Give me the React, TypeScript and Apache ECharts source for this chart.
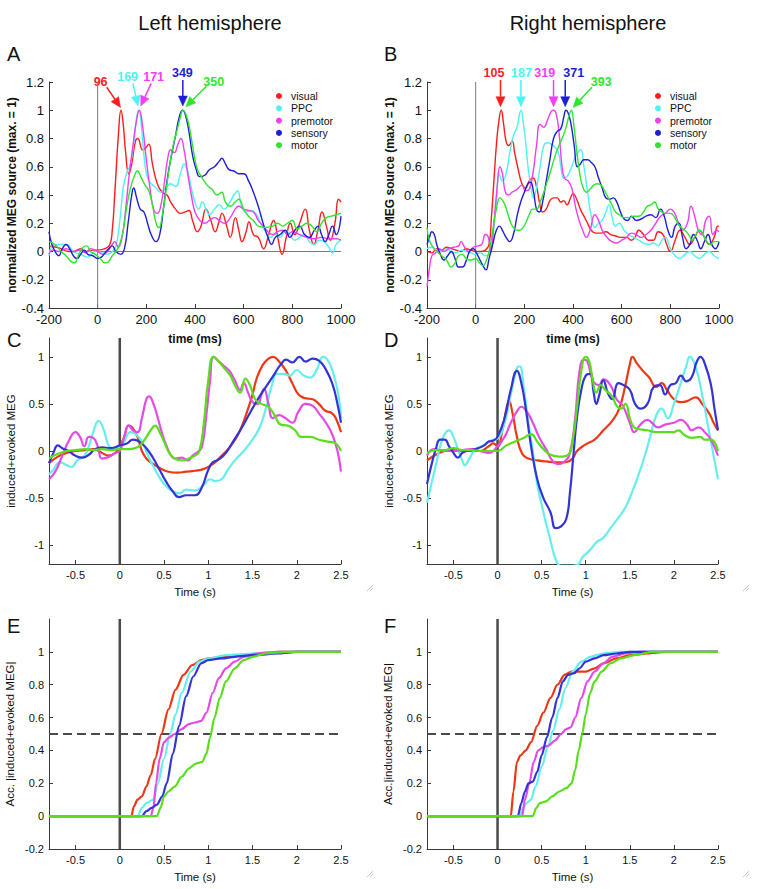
import React, { useEffect, useRef } from "react";
import * as echarts from "echarts";

const FONT = "'Liberation Sans', Arial, sans-serif";
const NAMES = ["visual", "PPC", "premotor", "sensory", "motor"];
const COL_AB = ["#ff1c1c", "#4ff2f2", "#f23df2", "#1e1ed6", "#2ee62e"];
const COL_CF = ["#ee3814", "#66eeee", "#e64ae6", "#3434d6", "#5ade1c"];

// ---------- Panel A (left hemisphere, evoked) ----------
const A_visual = [[-200,0.04],[-170,0.03],[-150,0.02],[-120,0.0],[-100,0.0],[-70,0.02],[-50,0.0],[-20,0.01],[0,0.01],[30,0.02],[50,0.05],[60,0.15],[70,0.4],[85,0.82],[96,1.0],[105,0.9],[115,0.7],[128,0.55],[140,0.62],[155,0.78],[165,0.8],[185,0.72],[195,0.73],[210,0.76],[225,0.62],[245,0.48],[265,0.42],[285,0.4],[300,0.35],[320,0.3],[340,0.27],[360,0.28],[375,0.29],[390,0.22],[410,0.14],[425,0.18],[445,0.3],[465,0.22],[483,0.14],[500,0.22],[511,0.27],[530,0.18],[545,0.1],[566,0.24],[580,0.15],[593,0.07],[610,0.14],[622,0.21],[640,0.12],[660,0.1],[682,0.02],[700,0.1],[723,0.22],[740,0.1],[758,-0.02],[775,0.1],[792,0.2],[810,0.12],[830,0.2],[853,0.3],[870,0.15],[888,0.05],[905,0.15],[922,0.28],[940,0.18],[956,0.08],[975,0.2],[990,0.37],[1000,0.35]];
const A_ppc = [[-200,-0.03],[-185,0.04],[-160,0.05],[-130,0.05],[-100,0.0],[-70,-0.02],[-40,-0.04],[-10,0.0],[0,0.0],[20,-0.01],[40,-0.02],[60,0.0],[75,0.04],[90,0.2],[105,0.45],[120,0.56],[135,0.62],[150,0.8],[160,0.95],[169,1.0],[180,0.88],[192,0.65],[205,0.52],[220,0.48],[240,0.45],[260,0.42],[280,0.45],[300,0.48],[320,0.46],[340,0.55],[355,0.62],[370,0.57],[385,0.45],[400,0.35],[415,0.3],[430,0.35],[445,0.3],[460,0.26],[480,0.3],[500,0.33],[520,0.3],[540,0.34],[560,0.4],[575,0.43],[590,0.33],[610,0.28],[630,0.29],[650,0.27],[670,0.2],[690,0.14],[710,0.1],[730,0.12],[750,0.1],[770,0.15],[790,0.12],[810,0.08],[830,0.1],[850,0.12],[870,0.07],[890,0.05],[910,0.08],[930,0.07],[950,0.03],[965,-0.01],[980,0.05],[1000,0.08]];
const A_premotor = [[-200,-0.02],[-185,0.01],[-160,0.0],[-130,0.02],[-100,0.0],[-70,0.01],[-50,-0.01],[-30,0.02],[0,0.0],[20,-0.02],[40,0.0],[60,0.05],[70,0.07],[85,0.03],[100,0.1],[115,0.3],[130,0.55],[145,0.75],[160,0.93],[171,1.0],[185,0.88],[200,0.65],[215,0.45],[230,0.3],[245,0.27],[260,0.33],[275,0.5],[290,0.68],[300,0.72],[315,0.7],[330,0.76],[342,0.8],[355,0.72],[370,0.55],[385,0.4],[400,0.28],[420,0.22],[440,0.2],[460,0.22],[480,0.24],[500,0.22],[520,0.2],[545,0.24],[565,0.3],[580,0.32],[600,0.3],[620,0.29],[640,0.28],[660,0.22],[680,0.18],[700,0.14],[720,0.12],[740,0.14],[760,0.15],[780,0.12],[800,0.14],[830,0.12],[860,0.1],[890,0.09],[920,0.1],[950,0.09],[980,0.09],[1000,0.08]];
const A_sensory = [[-200,0.14],[-190,0.06],[-175,0.0],[-160,-0.03],[-145,0.02],[-130,0.05],[-115,0.02],[-100,-0.03],[-85,-0.05],[-70,-0.02],[-55,0.01],[-40,-0.02],[-20,-0.03],[0,-0.05],[15,-0.04],[30,-0.01],[45,0.02],[60,0.04],[75,0.0],[95,-0.02],[110,0.02],[125,0.2],[140,0.4],[148,0.45],[160,0.38],[175,0.3],[190,0.28],[205,0.2],[220,0.12],[240,0.07],[255,0.12],[270,0.3],[285,0.5],[300,0.65],[320,0.82],[335,0.95],[349,1.0],[360,0.97],[375,0.85],[390,0.68],[405,0.58],[420,0.53],[440,0.54],[460,0.58],[480,0.6],[500,0.64],[510,0.66],[525,0.62],[540,0.58],[560,0.57],[580,0.55],[600,0.55],[620,0.5],[640,0.42],[660,0.32],[680,0.2],[700,0.1],[715,0.05],[730,0.1],[750,0.12],[770,0.15],[790,0.1],[810,0.15],[830,0.18],[850,0.12],[870,0.1],[890,0.15],[905,0.18],[920,0.12],[935,0.07],[950,0.12],[965,0.18],[980,0.12],[1000,0.25]];
const A_motor = [[-200,0.07],[-185,0.06],[-170,0.04],[-150,0.0],[-130,-0.03],[-110,-0.07],[-95,-0.08],[-80,-0.03],[-60,0.03],[-45,0.04],[-30,0.0],[-10,-0.02],[10,-0.05],[30,-0.08],[45,-0.07],[60,-0.03],[75,0.0],[90,0.05],[105,0.15],[120,0.32],[135,0.45],[150,0.53],[163,0.57],[180,0.52],[195,0.47],[210,0.43],[225,0.33],[240,0.2],[252,0.17],[265,0.25],[280,0.42],[295,0.6],[310,0.75],[325,0.85],[340,0.95],[350,1.0],[365,0.96],[380,0.85],[395,0.7],[410,0.58],[430,0.52],[450,0.47],[470,0.44],[490,0.4],[510,0.42],[525,0.35],[545,0.32],[565,0.35],[580,0.37],[600,0.3],[620,0.25],[640,0.22],[660,0.18],[690,0.17],[720,0.18],[740,0.2],[760,0.18],[780,0.2],[800,0.22],[820,0.16],[840,0.18],[860,0.2],[880,0.18],[900,0.14],[920,0.2],[940,0.24],[960,0.25],[980,0.26],[1000,0.27]];

// ---------- Panel B (right hemisphere, evoked) ----------
const B_visual = [[-200,0.0],[-180,-0.01],[-160,0.02],[-140,0.01],[-120,0.03],[-100,0.02],[-80,0.01],[-60,0.0],[-40,0.02],[-20,0.01],[0,0.0],[20,0.0],[40,0.01],[55,0.05],[65,0.25],[75,0.5],[85,0.75],[95,0.92],[105,1.0],[115,0.9],[125,0.78],[135,0.75],[150,0.78],[160,0.7],[175,0.58],[190,0.48],[205,0.45],[220,0.5],[235,0.52],[250,0.46],[262,0.35],[275,0.28],[290,0.3],[305,0.36],[320,0.38],[335,0.38],[350,0.35],[362,0.36],[375,0.33],[390,0.38],[400,0.41],[415,0.37],[430,0.3],[445,0.25],[460,0.2],[475,0.15],[495,0.13],[515,0.13],[535,0.14],[555,0.12],[575,0.11],[595,0.1],[620,0.1],[640,0.08],[655,0.1],[670,0.15],[690,0.12],[710,0.08],[730,0.08],[750,0.14],[770,0.12],[785,0.05],[800,0.0],[820,0.08],[840,0.15],[860,0.1],[880,0.05],[900,0.1],[920,0.15],[940,0.1],[960,0.05],[980,0.1],[995,0.18],[1000,0.18]];
const B_ppc = [[-200,0.02],[-180,0.03],[-160,0.01],[-140,0.0],[-120,0.02],[-100,0.0],[-80,-0.01],[-60,0.01],[-40,0.0],[-20,-0.01],[0,-0.02],[20,-0.01],[40,-0.03],[55,-0.02],[70,0.1],[85,0.35],[97,0.55],[110,0.5],[125,0.55],[140,0.7],[155,0.82],[170,0.88],[180,0.97],[187,1.0],[195,0.92],[205,0.78],[215,0.6],[225,0.48],[238,0.38],[250,0.45],[265,0.6],[280,0.75],[295,0.77],[310,0.76],[325,0.74],[340,0.7],[350,0.6],[362,0.52],[375,0.53],[390,0.58],[405,0.65],[420,0.7],[432,0.72],[445,0.6],[460,0.42],[475,0.25],[490,0.17],[505,0.2],[520,0.22],[535,0.28],[548,0.33],[560,0.25],[575,0.18],[590,0.2],[610,0.15],[630,0.12],[650,0.1],[670,0.08],[690,0.06],[710,0.05],[730,0.06],[750,0.04],[765,0.08],[780,0.1],[800,0.02],[820,-0.03],[840,-0.05],[860,-0.02],[880,0.0],[900,-0.03],[920,-0.05],[940,-0.02],[960,0.0],[980,-0.03],[1000,-0.05]];
const B_premotor = [[-200,-0.25],[-190,-0.12],[-180,-0.03],[-165,-0.01],[-150,0.02],[-130,0.0],[-110,0.02],[-90,0.03],[-70,0.04],[-60,0.07],[-45,0.03],[-30,0.0],[-10,0.03],[10,0.04],[25,0.05],[40,0.12],[52,0.1],[62,0.0],[75,0.2],[88,0.45],[100,0.6],[110,0.55],[122,0.42],[135,0.4],[150,0.42],[170,0.44],[190,0.47],[205,0.43],[220,0.44],[235,0.55],[250,0.75],[265,0.9],[280,0.88],[295,0.93],[310,0.99],[319,1.0],[330,0.98],[342,0.85],[355,0.6],[365,0.52],[380,0.5],[395,0.45],[410,0.32],[425,0.22],[440,0.15],[455,0.1],[470,0.15],[490,0.26],[505,0.22],[520,0.15],[540,0.1],[560,0.07],[580,0.06],[600,0.08],[620,0.1],[640,0.13],[660,0.12],[680,0.1],[700,0.12],[720,0.15],[740,0.2],[760,0.25],[780,0.27],[800,0.3],[815,0.28],[830,0.22],[850,0.15],[870,0.2],[885,0.32],[900,0.25],[915,0.15],[930,0.12],[945,0.22],[960,0.25],[975,0.12],[990,0.15],[1000,0.14]];
const B_sensory = [[-200,0.05],[-190,0.1],[-180,0.14],[-170,0.12],[-160,0.05],[-145,-0.02],[-130,-0.06],[-115,-0.03],[-100,0.0],[-85,-0.05],[-70,-0.11],[-55,-0.11],[-40,-0.07],[-25,0.0],[-10,0.02],[0,0.0],[15,-0.05],[30,-0.1],[42,-0.13],[55,-0.05],[70,0.05],[85,0.15],[98,0.18],[110,0.15],[125,0.1],[140,0.07],[155,0.12],[170,0.25],[185,0.35],[200,0.42],[215,0.48],[225,0.49],[238,0.42],[250,0.3],[262,0.28],[275,0.35],[290,0.5],[305,0.65],[320,0.8],[335,0.85],[350,0.87],[362,0.95],[371,1.0],[380,0.98],[392,0.9],[405,0.75],[418,0.6],[430,0.62],[445,0.65],[460,0.65],[475,0.63],[490,0.6],[505,0.52],[520,0.45],[535,0.38],[550,0.37],[565,0.38],[580,0.35],[595,0.28],[610,0.23],[625,0.22],[640,0.25],[660,0.22],[680,0.23],[700,0.25],[720,0.26],[740,0.24],[760,0.3],[775,0.25],[790,0.15],[805,0.1],[820,0.18],[835,0.2],[850,0.1],[865,0.02],[880,0.05],[895,0.12],[910,0.08],[925,0.02],[940,0.07],[955,0.12],[970,0.05],[985,0.02],[1000,0.07]];
const B_motor = [[-200,0.17],[-190,0.08],[-175,0.03],[-160,0.0],[-140,-0.03],[-120,-0.06],[-100,-0.11],[-85,-0.08],[-70,-0.03],[-55,-0.02],[-40,-0.05],[-20,-0.06],[0,-0.05],[15,-0.08],[30,-0.1],[40,-0.08],[55,0.0],[70,0.15],[85,0.3],[100,0.38],[115,0.35],[130,0.28],[145,0.2],[160,0.16],[175,0.15],[190,0.16],[205,0.2],[220,0.26],[235,0.3],[250,0.3],[265,0.35],[280,0.42],[295,0.5],[310,0.58],[325,0.67],[340,0.74],[355,0.8],[370,0.87],[382,0.95],[393,1.0],[403,0.9],[415,0.72],[428,0.55],[440,0.46],[455,0.42],[470,0.44],[485,0.47],[500,0.48],[515,0.47],[530,0.43],[545,0.38],[560,0.33],[575,0.28],[590,0.26],[610,0.24],[630,0.24],[650,0.25],[670,0.25],[690,0.28],[705,0.32],[720,0.33],[735,0.35],[750,0.3],[765,0.28],[780,0.27],[800,0.27],[815,0.25],[830,0.2],[845,0.17],[860,0.15],[875,0.12],[890,0.08],[905,0.12],[920,0.15],[935,0.12],[950,0.07],[965,0.05],[980,0.07],[1000,0.07]];

// ---------- Panel C (left, induced+evoked) ----------
const C_visual = [[-0.8,-0.13],[-0.7,-0.06],[-0.6,-0.02],[-0.5,0.0],[-0.4,0.01],[-0.3,0.02],[-0.2,-0.02],[-0.13,-0.05],[-0.05,-0.02],[0,0.05],[0.05,0.15],[0.1,0.27],[0.14,0.25],[0.2,0.15],[0.25,0.0],[0.3,-0.08],[0.35,-0.12],[0.45,-0.18],[0.55,-0.22],[0.65,-0.23],[0.75,-0.22],[0.85,-0.21],[0.95,-0.19],[1.05,-0.14],[1.15,-0.05],[1.25,0.05],[1.35,0.2],[1.45,0.45],[1.5,0.6],[1.55,0.78],[1.62,0.92],[1.68,0.98],[1.73,1.0],[1.8,0.95],[1.88,0.85],[1.95,0.72],[2.02,0.6],[2.1,0.56],[2.18,0.55],[2.25,0.5],[2.32,0.43],[2.4,0.4],[2.45,0.33],[2.5,0.2]];
const C_ppc = [[-0.8,-0.25],[-0.75,-0.2],[-0.68,-0.12],[-0.6,-0.15],[-0.55,-0.17],[-0.48,-0.1],[-0.4,-0.05],[-0.35,0.05],[-0.3,0.2],[-0.24,0.32],[-0.18,0.22],[-0.12,0.05],[-0.05,0.02],[0,0.05],[0.05,0.1],[0.12,0.2],[0.18,0.18],[0.25,0.1],[0.32,-0.05],[0.4,-0.2],[0.5,-0.35],[0.6,-0.43],[0.68,-0.45],[0.75,-0.41],[0.85,-0.42],[0.95,-0.36],[1.02,-0.3],[1.08,-0.32],[1.15,-0.3],[1.22,-0.2],[1.3,-0.1],[1.4,0.0],[1.5,0.12],[1.58,0.25],[1.65,0.45],[1.72,0.7],[1.78,0.82],[1.85,0.82],[1.92,0.8],[2.0,0.86],[2.08,0.8],[2.15,0.78],[2.22,0.85],[2.3,1.0],[2.36,0.95],[2.42,0.8],[2.47,0.6],[2.5,0.35]];
const C_premotor = [[-0.8,-0.3],[-0.73,-0.22],[-0.65,-0.05],[-0.58,0.1],[-0.5,0.2],[-0.45,0.15],[-0.4,0.05],[-0.35,0.15],[-0.3,0.14],[-0.25,0.05],[-0.2,-0.08],[-0.12,-0.06],[-0.05,-0.02],[0,0.0],[0.05,0.15],[0.1,0.27],[0.15,0.22],[0.2,0.2],[0.25,0.35],[0.3,0.55],[0.33,0.58],[0.38,0.5],[0.43,0.35],[0.48,0.18],[0.53,0.05],[0.58,-0.05],[0.63,-0.08],[0.7,-0.07],[0.77,-0.1],[0.82,-0.05],[0.88,-0.01],[0.93,0.05],[0.98,0.4],[1.02,0.75],[1.06,1.0],[1.12,0.95],[1.18,0.9],[1.24,0.85],[1.3,0.75],[1.36,0.65],[1.4,0.72],[1.45,0.62],[1.5,0.52],[1.56,0.5],[1.6,0.6],[1.63,0.66],[1.68,0.5],[1.73,0.35],[1.8,0.38],[1.87,0.35],[1.95,0.3],[2.02,0.42],[2.1,0.5],[2.18,0.48],[2.25,0.4],[2.33,0.3],[2.4,0.18],[2.46,0.0],[2.5,-0.22]];
const C_sensory = [[-0.8,-0.13],[-0.75,-0.02],[-0.7,0.06],[-0.65,0.03],[-0.58,0.0],[-0.5,-0.05],[-0.42,-0.07],[-0.35,-0.04],[-0.28,0.02],[-0.2,0.04],[-0.1,0.03],[0,0.06],[0.08,0.08],[0.15,0.12],[0.22,0.1],[0.3,0.03],[0.38,-0.08],[0.45,-0.2],[0.52,-0.32],[0.6,-0.43],[0.67,-0.49],[0.75,-0.47],[0.85,-0.47],[0.92,-0.4],[1.0,-0.2],[1.05,-0.12],[1.12,-0.09],[1.2,-0.02],[1.28,0.1],[1.38,0.25],[1.48,0.42],[1.58,0.58],[1.68,0.72],[1.75,0.82],[1.82,0.92],[1.88,0.97],[1.95,0.94],[2.03,1.0],[2.1,0.95],[2.18,0.98],[2.25,0.96],[2.32,0.88],[2.4,0.72],[2.46,0.5],[2.5,0.3]];
const C_motor = [[-0.8,-0.08],[-0.7,-0.03],[-0.6,0.0],[-0.5,0.01],[-0.4,0.02],[-0.3,0.01],[-0.2,0.02],[-0.1,0.01],[0,0.02],[0.1,0.02],[0.2,0.04],[0.28,0.12],[0.35,0.22],[0.4,0.27],[0.45,0.2],[0.5,0.1],[0.56,-0.02],[0.62,-0.08],[0.7,-0.1],[0.78,-0.08],[0.85,-0.05],[0.9,0.0],[0.95,0.3],[1.0,0.75],[1.06,1.0],[1.12,0.95],[1.18,0.88],[1.25,0.8],[1.3,0.7],[1.36,0.62],[1.42,0.77],[1.47,0.7],[1.53,0.55],[1.6,0.5],[1.68,0.47],[1.75,0.38],[1.82,0.28],[1.9,0.27],[1.98,0.22],[2.05,0.15],[2.15,0.15],[2.25,0.12],[2.35,0.1],[2.42,0.09],[2.5,0.0]];

// ---------- Panel D (right, induced+evoked) ----------
const D_visual = [[-0.8,-0.1],[-0.7,-0.04],[-0.6,0.0],[-0.5,0.01],[-0.4,0.0],[-0.3,0.0],[-0.2,0.0],[-0.1,0.05],[-0.05,0.08],[0,0.05],[0.05,0.2],[0.1,0.45],[0.13,0.53],[0.17,0.4],[0.22,0.15],[0.28,-0.03],[0.35,-0.08],[0.45,-0.1],[0.55,-0.11],[0.65,-0.12],[0.75,-0.12],[0.85,-0.08],[0.9,0.0],[1.0,0.07],[1.1,0.12],[1.2,0.22],[1.3,0.32],[1.38,0.45],[1.45,0.7],[1.5,0.92],[1.53,1.0],[1.58,0.93],[1.65,0.85],[1.72,0.78],[1.8,0.68],[1.86,0.72],[1.92,0.65],[2.0,0.55],[2.08,0.52],[2.15,0.53],[2.25,0.57],[2.32,0.5],[2.4,0.4],[2.45,0.3],[2.5,0.22]];
const D_ppc = [[-0.8,-0.55],[-0.75,-0.35],[-0.7,-0.15],[-0.65,0.05],[-0.6,0.18],[-0.55,0.22],[-0.5,0.15],[-0.45,0.02],[-0.4,-0.1],[-0.37,-0.15],[-0.32,-0.08],[-0.25,0.02],[-0.18,0.05],[-0.1,0.1],[-0.05,0.12],[0,0.13],[0.08,0.3],[0.15,0.6],[0.22,0.88],[0.25,0.9],[0.3,0.65],[0.35,0.3],[0.4,0.0],[0.45,-0.35],[0.52,-0.65],[0.6,-0.95],[0.66,-1.15],[0.72,-1.22],[0.8,-1.22],[0.9,-1.21],[0.97,-1.12],[1.05,-1.05],[1.12,-0.97],[1.2,-0.92],[1.28,-0.82],[1.36,-0.72],[1.45,-0.6],[1.52,-0.45],[1.6,-0.25],[1.67,-0.05],[1.73,0.15],[1.8,0.38],[1.86,0.45],[1.93,0.35],[2.0,0.5],[2.07,0.7],[2.14,0.9],[2.18,1.0],[2.25,0.88],[2.32,0.6],[2.38,0.3],[2.44,0.0],[2.5,-0.3]];
const D_premotor = [[-0.8,-0.05],[-0.72,0.02],[-0.6,0.0],[-0.5,0.0],[-0.4,0.01],[-0.3,0.02],[-0.2,0.0],[-0.1,-0.02],[0,0.05],[0.08,0.15],[0.15,0.3],[0.22,0.42],[0.27,0.47],[0.33,0.42],[0.4,0.3],[0.47,0.15],[0.55,0.02],[0.62,-0.1],[0.68,-0.14],[0.75,-0.12],[0.82,-0.02],[0.88,0.35],[0.93,0.85],[0.98,0.97],[1.02,0.95],[1.08,0.75],[1.15,0.7],[1.2,0.76],[1.28,0.7],[1.35,0.55],[1.42,0.48],[1.5,0.3],[1.55,0.2],[1.62,0.28],[1.7,0.33],[1.75,0.3],[1.82,0.25],[1.9,0.28],[2.0,0.3],[2.08,0.33],[2.15,0.28],[2.2,0.22],[2.28,0.25],[2.35,0.2],[2.42,0.12],[2.5,-0.05]];
const D_sensory = [[-0.8,-0.35],[-0.75,-0.15],[-0.7,0.02],[-0.65,0.12],[-0.6,0.12],[-0.55,0.05],[-0.5,-0.02],[-0.45,-0.07],[-0.4,-0.02],[-0.35,0.0],[-0.25,0.02],[-0.15,0.06],[-0.1,0.1],[-0.05,0.11],[0,0.15],[0.08,0.35],[0.15,0.65],[0.22,0.85],[0.27,0.72],[0.32,0.45],[0.38,0.05],[0.45,-0.3],[0.52,-0.5],[0.6,-0.65],[0.66,-0.82],[0.72,-0.8],[0.78,-0.72],[0.82,-0.45],[0.86,-0.05],[0.9,0.35],[0.95,0.65],[1.0,0.8],[1.05,0.82],[1.09,0.62],[1.12,0.5],[1.15,0.58],[1.2,0.75],[1.25,0.62],[1.3,0.55],[1.37,0.72],[1.43,0.7],[1.5,0.65],[1.56,0.5],[1.62,0.45],[1.7,0.5],[1.77,0.68],[1.84,0.7],[1.9,0.6],[1.96,0.7],[2.02,0.72],[2.08,0.8],[2.14,0.74],[2.2,0.78],[2.26,0.95],[2.3,1.0],[2.36,0.9],[2.42,0.7],[2.46,0.45],[2.5,0.22]];
const D_motor = [[-0.8,-0.02],[-0.7,0.01],[-0.6,0.01],[-0.5,0.03],[-0.4,0.01],[-0.3,0.01],[-0.2,0.0],[-0.1,0.0],[0,0.0],[0.1,0.06],[0.2,0.1],[0.3,0.14],[0.38,0.18],[0.45,0.1],[0.52,0.02],[0.6,-0.04],[0.7,-0.06],[0.8,-0.04],[0.85,0.1],[0.9,0.45],[0.95,0.85],[1.0,1.0],[1.04,0.95],[1.08,0.75],[1.12,0.62],[1.17,0.7],[1.22,0.65],[1.3,0.58],[1.35,0.48],[1.4,0.45],[1.45,0.5],[1.5,0.35],[1.55,0.25],[1.62,0.23],[1.7,0.22],[1.8,0.2],[1.9,0.2],[2.0,0.2],[2.05,0.22],[2.12,0.17],[2.2,0.14],[2.3,0.15],[2.35,0.12],[2.42,0.12],[2.5,0.0]];

// ---------- Panel E (left, accumulated) ----------
const E_visual = [[-0.8,0],[0.13,0],[0.16,0.06],[0.2,0.1],[0.25,0.12],[0.3,0.18],[0.35,0.25],[0.4,0.35],[0.47,0.5],[0.55,0.65],[0.63,0.77],[0.72,0.86],[0.82,0.92],[0.92,0.95],[1.0,0.96],[1.2,0.97],[1.4,0.98],[1.6,0.99],[1.8,1.0],[2.5,1.0]];
const E_ppc = [[-0.8,0],[0.2,0],[0.25,0.05],[0.3,0.08],[0.38,0.1],[0.43,0.2],[0.5,0.35],[0.57,0.5],[0.63,0.62],[0.7,0.75],[0.8,0.88],[0.9,0.94],[1.0,0.96],[1.2,0.98],[1.5,0.99],[1.8,1.0],[2.5,1.0]];
const E_premotor = [[-0.8,0],[0.35,0],[0.38,0.05],[0.41,0.2],[0.45,0.35],[0.5,0.45],[0.56,0.48],[0.62,0.5],[0.7,0.53],[0.78,0.56],[0.85,0.57],[0.92,0.58],[0.98,0.63],[1.05,0.75],[1.12,0.84],[1.2,0.9],[1.3,0.94],[1.4,0.97],[1.55,0.99],[1.8,1.0],[2.5,1.0]];
const E_sensory = [[-0.8,0],[0.25,0],[0.3,0.03],[0.36,0.05],[0.42,0.07],[0.48,0.12],[0.53,0.2],[0.6,0.38],[0.67,0.55],[0.75,0.73],[0.83,0.85],[0.92,0.93],[1.0,0.95],[1.15,0.96],[1.3,0.97],[1.5,0.98],[1.8,0.99],[2.0,1.0],[2.5,1.0]];
const E_motor = [[-0.8,0],[0.42,0],[0.46,0.05],[0.5,0.12],[0.55,0.15],[0.62,0.18],[0.7,0.24],[0.78,0.29],[0.86,0.32],[0.93,0.33],[0.98,0.38],[1.02,0.48],[1.07,0.6],[1.13,0.72],[1.2,0.82],[1.3,0.9],[1.4,0.95],[1.5,0.97],[1.65,0.99],[1.9,1.0],[2.5,1.0]];

// ---------- Panel F (right, accumulated) ----------
const F_visual = [[-0.8,0],[0.15,0],[0.18,0.15],[0.22,0.33],[0.26,0.37],[0.32,0.4],[0.38,0.45],[0.45,0.55],[0.52,0.63],[0.6,0.72],[0.68,0.8],[0.76,0.86],[0.84,0.88],[0.92,0.88],[1.0,0.88],[1.1,0.9],[1.2,0.93],[1.35,0.96],[1.5,0.98],[1.7,0.99],[1.9,1.0],[2.5,1.0]];
const F_ppc = [[-0.8,0],[0.25,0],[0.29,0.05],[0.33,0.08],[0.38,0.1],[0.43,0.18],[0.5,0.3],[0.57,0.42],[0.63,0.52],[0.7,0.65],[0.77,0.78],[0.85,0.88],[0.95,0.94],[1.05,0.97],[1.2,0.99],[1.4,1.0],[2.5,1.0]];
const F_premotor = [[-0.8,0],[0.28,0],[0.31,0.1],[0.36,0.2],[0.41,0.33],[0.46,0.4],[0.52,0.42],[0.58,0.43],[0.65,0.46],[0.72,0.5],[0.78,0.53],[0.83,0.54],[0.88,0.6],[0.95,0.72],[1.02,0.82],[1.1,0.88],[1.2,0.93],[1.3,0.97],[1.45,0.99],[1.6,1.0],[2.5,1.0]];
const F_sensory = [[-0.8,0],[0.23,0],[0.27,0.08],[0.31,0.15],[0.35,0.2],[0.4,0.21],[0.45,0.27],[0.5,0.37],[0.56,0.48],[0.62,0.6],[0.68,0.72],[0.74,0.82],[0.8,0.86],[0.87,0.87],[0.93,0.9],[1.0,0.94],[1.1,0.96],[1.2,0.98],[1.35,0.99],[1.5,1.0],[2.5,1.0]];
const F_motor = [[-0.8,0],[0.4,0],[0.44,0.05],[0.48,0.08],[0.55,0.09],[0.62,0.12],[0.7,0.15],[0.78,0.17],[0.84,0.2],[0.88,0.28],[0.92,0.4],[0.96,0.5],[1.0,0.62],[1.05,0.75],[1.1,0.82],[1.18,0.88],[1.28,0.93],[1.4,0.96],[1.55,0.98],[1.75,1.0],[2.5,1.0]];

// ---------- tick values ----------
const X_TICKS_S = [-0.5, 0, 0.5, 1, 1.5, 2, 2.5];
const Y_TICKS_CD = [-1, -0.5, 0, 0.5, 1];
const Y_TICKS_EF = [-0.2, 0, 0.2, 0.4, 0.6, 0.8, 1];

// ---------- peak annotations (data coordinates) ----------
const A_PEAKS = [
  { text: "96", c: 0, label: [12, 1.2], tail: [37, 1.163], tip: [94, 1.02] },
  { text: "169", c: 1, label: [123, 1.235], tail: [145, 1.19], tip: [166, 1.03] },
  { text: "171", c: 2, label: [230, 1.235], tail: [220, 1.19], tip: [177, 1.03] },
  { text: "349", c: 3, label: [348, 1.266], tail: [350, 1.214], tip: [350, 1.03] },
  { text: "350", c: 4, label: [477, 1.2], tail: [447, 1.17], tip: [362, 1.025] },
];
const B_PEAKS = [
  { text: "105", c: 0, label: [75, 1.266], tail: [102, 1.214], tip: [102, 1.025] },
  { text: "187", c: 1, label: [188, 1.266], tail: [186, 1.214], tip: [186, 1.025] },
  { text: "319", c: 2, label: [284, 1.266], tail: [320, 1.214], tip: [320, 1.025] },
  { text: "371", c: 3, label: [403, 1.266], tail: [368, 1.214], tip: [368, 1.025] },
  { text: "393", c: 4, label: [516, 1.2], tail: [478, 1.163], tip: [400, 1.02] },
];

const GRIDS = [
  { left: 49, top: 82, width: 292, height: 226 },
  { left: 427, top: 82, width: 292, height: 226 },
  { left: 49, top: 338, width: 292, height: 226 },
  { left: 427, top: 338, width: 291, height: 226 },
  { left: 49, top: 619, width: 292, height: 230 },
  { left: 427, top: 619, width: 291, height: 230 },
];

const PANELS = [
  { curves: [A_visual, A_ppc, A_premotor, A_sensory, A_motor], colors: COL_AB, width: 1.4 },
  { curves: [B_visual, B_ppc, B_premotor, B_sensory, B_motor], colors: COL_AB, width: 1.4 },
  { curves: [C_visual, C_ppc, C_premotor, C_sensory, C_motor], colors: COL_CF, width: 2.2 },
  { curves: [D_visual, D_ppc, D_premotor, D_sensory, D_motor], colors: COL_CF, width: 2.2 },
  { curves: [E_visual, E_ppc, E_premotor, E_sensory, E_motor], colors: COL_CF, width: 2.2 },
  { curves: [F_visual, F_ppc, F_premotor, F_sensory, F_motor], colors: COL_CF, width: 2.2 },
];

const AXIS_COLOR = "#3a3a3a";

function baseAxis(fontSize: number) {
  return {
    type: "value" as const,
    axisLine: { show: true, onZero: false, lineStyle: { color: AXIS_COLOR, width: 1 } },
    axisTick: { show: true, inside: true, length: 4, lineStyle: { color: AXIS_COLOR } },
    splitLine: { show: false },
    axisLabel: { color: "#111", fontSize, fontFamily: FONT, margin: 5, formatter: (v: number) => String(Math.round(v * 1000) / 1000) },
    nameLocation: "middle" as const,
  };
}

function buildOption() {
  const xAxis: any[] = [];
  const yAxis: any[] = [];
  for (let i = 0; i < 6; i++) {
    if (i < 2) {
      const bx = baseAxis(13);
      xAxis.push({
        ...bx, gridIndex: i, min: -200, max: 1000, interval: 200,
        name: "time (ms)", nameGap: 25,
        nameTextStyle: { fontFamily: FONT, fontSize: 12, fontWeight: "bold", color: "#111" },
      });
      const by = baseAxis(13);
      yAxis.push({
        ...by, gridIndex: i, min: -0.4, max: 1.2, interval: 0.2,
        name: "normalized MEG source (max. = 1)", nameGap: 30,
        nameTextStyle: { fontFamily: FONT, fontSize: 12, fontWeight: "bold", color: "#111" },
      });
    } else {
      const bx = baseAxis(11);
      xAxis.push({
        ...bx, gridIndex: i, min: -0.8, max: 2.5,
        axisLabel: { ...bx.axisLabel, customValues: X_TICKS_S },
        axisTick: { ...bx.axisTick, customValues: X_TICKS_S },
        name: "Time (s)", nameGap: 22,
        nameTextStyle: { fontFamily: FONT, fontSize: 11.5, color: "#111" },
      });
      const by = baseAxis(11);
      const ef = i >= 4;
      const ticks = ef ? Y_TICKS_EF : Y_TICKS_CD;
      yAxis.push({
        ...by, gridIndex: i, min: ef ? -0.2 : -1.2, max: 1.2,
        axisLabel: { ...by.axisLabel, customValues: ticks },
        axisTick: { ...by.axisTick, customValues: ticks },
        name: ef ? (i === 4 ? "Acc. |induced+evoked MEG|" : "Acc.|induced+evoked MEG|") : "induced+evoked MEG",
        nameGap: ef ? 33 : 32,
        nameTextStyle: { fontFamily: FONT, fontSize: 11.5, color: "#111" },
      });
    }
  }

  const series: any[] = [];
  const refLine = (i: number, data: number[][], color: string, width: number, type: any = "solid") => ({
    type: "line", xAxisIndex: i, yAxisIndex: i, data, symbol: "none", silent: true, z: 1,
    lineStyle: { color, width, type }, animation: false,
  });
  for (let i = 0; i < 6; i++) {
    if (i < 2) {
      series.push(refLine(i, [[0, -0.4], [0, 1.2]], "#7a7a7a", 1));
      series.push(refLine(i, [[0, 0], [1000, 0]], "#7a7a7a", 1));
    } else if (i < 4) {
      series.push(refLine(i, [[0, -1.2], [0, 1.2]], "#4a4a4a", 2.5));
    } else {
      series.push(refLine(i, [[0, -0.2], [0, 1.2]], "#4a4a4a", 2.5));
      series.push(refLine(i, [[-0.8, 0.5], [2.5, 0.5]], "#4a4a4a", 2, [9, 5]));
    }
    const p = PANELS[i];
    p.curves.forEach((d, k) => {
      const s: any = {
        type: "line", name: NAMES[k], xAxisIndex: i, yAxisIndex: i, data: d,
        symbol: "none", smooth: i >= 4 ? 0.3 : 0.5,
        lineStyle: { color: p.colors[k], width: p.width, join: "round" },
        itemStyle: { color: p.colors[k] },
        z: 2, animation: false,
      };
      if (i >= 4) s.smoothMonotone = "x";
      series.push(s);
    });
  }

  const legendBase = {
    data: NAMES, orient: "vertical", icon: "circle", itemWidth: 6, itemHeight: 6,
    itemGap: 0.3, padding: 0, selectedMode: false,
    textStyle: { fontFamily: FONT, fontSize: 10.5, color: "#111", lineHeight: 12, padding: [0, 0, 0, 4] },
  };

  return {
    animation: false,
    backgroundColor: "#ffffff",
    grid: GRIDS.map((g) => ({ ...g, containLabel: false })),
    xAxis, yAxis, series,
    legend: [
      { ...legendBase, left: 276, top: 90 },
      { ...legendBase, left: 655, top: 90 },
    ],
  };
}

export default function App() {
  const ref = useRef<HTMLDivElement>(null);
  useEffect(() => {
    const chart = echarts.init(ref.current!, null, { renderer: "svg" });
    chart.setOption(buildOption() as any);

    const g: any[] = [];
    const text = (x: number, y: number, t: string, font: string, fill = "#111", align = "center") => ({
      type: "text", x, y, silent: true,
      style: { text: t, font, fill, textAlign: align, align, textVerticalAlign: "middle", verticalAlign: "middle" },
    });
    g.push(text(210, 23, "Left hemisphere", `20px ${FONT}`));
    g.push(text(588, 23, "Right hemisphere", `20px ${FONT}`));
    g.push(text(7, 54, "A", `20px ${FONT}`, "#111", "left"));
    g.push(text(384, 54, "B", `20px ${FONT}`, "#111", "left"));
    g.push(text(7, 340, "C", `20px ${FONT}`, "#111", "left"));
    g.push(text(384, 340, "D", `20px ${FONT}`, "#111", "left"));
    g.push(text(7, 626, "E", `20px ${FONT}`, "#111", "left"));
    g.push(text(384, 626, "F", `20px ${FONT}`, "#111", "left"));

    const addPeaks = (gi: number, peaks: any[]) => {
      peaks.forEach((pk) => {
        const col = COL_AB[pk.c];
        const conv = (v: number[]) => chart.convertToPixel({ xAxisIndex: gi, yAxisIndex: gi } as any, v) as number[];
        const L = conv(pk.label), T = conv(pk.tail), P = conv(pk.tip);
        const dx = P[0] - T[0], dy = P[1] - T[1];
        const len = Math.sqrt(dx * dx + dy * dy) || 1;
        const ux = dx / len, uy = dy / len;
        const hl = 10, hw = 4.5;
        const bx = P[0] - ux * hl, by = P[1] - uy * hl;
        g.push({ type: "line", silent: true, shape: { x1: T[0], y1: T[1], x2: bx, y2: by }, style: { stroke: col, lineWidth: 1.5 } });
        g.push({
          type: "polygon", silent: true,
          shape: { points: [[P[0], P[1]], [bx - uy * hw, by + ux * hw], [bx + uy * hw, by - ux * hw]] },
          style: { fill: col, stroke: col, lineWidth: 0.5 },
        });
        g.push(text(L[0], L[1], pk.text, `bold 12.5px ${FONT}`, col));
      });
    };
    addPeaks(0, A_PEAKS);
    addPeaks(1, B_PEAKS);

    // resize-grip marks
    [[372, 588], [748, 588], [372, 874], [748, 874]].forEach(([x, y]) => {
      g.push({ type: "line", silent: true, shape: { x1: x - 5, y1: y + 3, x2: x + 1, y2: y - 3 }, style: { stroke: "#c8c8c8", lineWidth: 1 } });
      g.push({ type: "line", silent: true, shape: { x1: x - 2, y1: y + 3, x2: x + 1, y2: y }, style: { stroke: "#c8c8c8", lineWidth: 1 } });
    });

    chart.setOption({ graphic: g } as any);
    return () => chart.dispose();
  }, []);
  return <div ref={ref} style={{ position: "absolute", left: 0, top: 0, width: 762, height: 889 }} />;
}
